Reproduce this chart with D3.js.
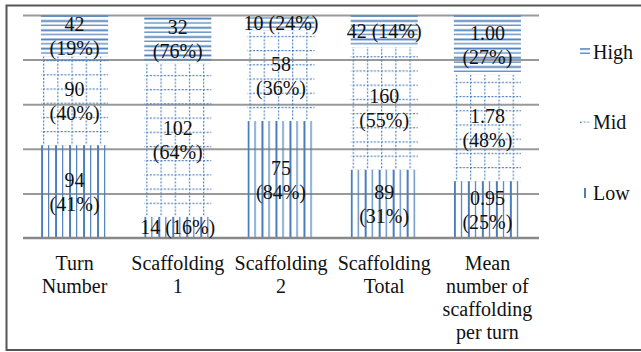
<!DOCTYPE html>
<html>
<head>
<meta charset="utf-8">
<script src="https://cdn.jsdelivr.net/npm/d3@7"></script>
<style>
  body { margin: 0; background: #fff; }
</style>
</head>
<body>
<svg id="chart" width="641" height="352" font-family="'Liberation Serif', 'Times New Roman', serif"></svg>
<script>
// --data--
var categories = ["Turn Number", "Scaffolding 1", "Scaffolding 2", "Scaffolding Total", "Mean number of scaffolding per turn"];
var categoryLines = [["Turn", "Number"], ["Scaffolding", "1"], ["Scaffolding", "2"], ["Scaffolding", "Total"], ["Mean", "number of", "scaffolding", "per turn"]];
var seriesNames = ["Low", "Mid", "High"];
var lowValues = [94, 14, 75, 89, 0.95];
var midValues = [90, 102, 58, 160, 1.78];
var highValues = [42, 32, 10, 42, 1.00];
var lowPct = ["41%", "16%", "84%", "31%", "25%"];
var midPct = ["40%", "64%", "36%", "55%", "48%"];
var highPct = ["19%", "76%", "24%", "14%", "27%"];
var valueFormat = ["d", "d", "d", "d", ".2f"];

var rows = categories.map(function (c, i) {
    return { cat: c, i: i, Low: lowValues[i], Mid: midValues[i], High: highValues[i] };
});
var pcts = { Low: lowPct, Mid: midPct, High: highPct };

var blue = "#4a7ebb";
var textColor = "#111";
var svg = d3.select("#chart");
var defs = svg.append("defs");

// outer frame
svg.append("rect")
    .attr("x", 6.5).attr("y", 5.5).attr("width", 640).attr("height", 344.5)
    .attr("fill", "none").attr("stroke", "#555").attr("stroke-width", 2);

var plotLeft = 23, plotRight = 539, plotTop = 15, plotBottom = 238;

var x = d3.scaleBand().domain(categories).range([plotLeft, plotRight]).paddingInner(0.35).paddingOuter(0.175);
var y = d3.scaleLinear().domain([0, 1]).range([plotBottom, plotTop]);

// gridlines
svg.append("g")
    .attr("transform", "translate(" + plotLeft + ",0)")
    .call(d3.axisLeft(y).tickValues([0.2, 0.4, 0.6, 0.8, 1]).tickSize(-(plotRight - plotLeft)).tickFormat(""))
    .call(function (g) {
        g.select(".domain").remove();
        g.selectAll(".tick line").attr("stroke", "#999").attr("stroke-width", 2);
    });

var stack = d3.stack().keys(seriesNames).offset(d3.stackOffsetExpand);
var series = stack(rows);

// --patterns, one per bar so that lines line up with bar edges--
function makePattern(key, id, px, py) {
    var p;
    if (key === "Low") {
        p = defs.append("pattern").attr("id", id).attr("patternUnits", "userSpaceOnUse")
            .attr("x", px).attr("y", 0).attr("width", 14).attr("height", 10);
        p.append("rect").attr("x", 0).attr("y", 0).attr("width", 2).attr("height", 10).attr("fill", blue);
        p.append("rect").attr("x", 7).attr("y", 0).attr("width", 1.2).attr("height", 10).attr("fill", blue);
    } else if (key === "Mid") {
        p = defs.append("pattern").attr("id", id).attr("patternUnits", "userSpaceOnUse")
            .attr("x", px + 2).attr("y", py).attr("width", 14.2).attr("height", 14.2);
        p.append("line").attr("x1", 0.6).attr("x2", 0.6).attr("y1", 0).attr("y2", 14.2)
            .attr("stroke", blue).attr("stroke-width", 1.2).attr("stroke-dasharray", "2,1.55");
        p.append("line").attr("x1", 0).attr("x2", 14.2).attr("y1", 0.6).attr("y2", 0.6)
            .attr("stroke", blue).attr("stroke-width", 1.2).attr("stroke-dasharray", "2,1.55");
    } else {
        p = defs.append("pattern").attr("id", id).attr("patternUnits", "userSpaceOnUse")
            .attr("x", 0).attr("y", py).attr("width", 10).attr("height", 9.2);
        p.append("rect").attr("x", 0).attr("y", 0.5).attr("width", 10).attr("height", 1.8).attr("fill", blue);
        p.append("rect").attr("x", 0).attr("y", 5.1).attr("width", 10).attr("height", 1.2).attr("fill", blue);
    }
}

var bars = svg.append("g");
series.forEach(function (s) {
    s.forEach(function (d, i) {
        var id = "pat-" + s.key + "-" + i;
        var bx = x(categories[i]);
        var y0 = y(d[0]), y1 = y(d[1]);
        makePattern(s.key, id, bx, y0);
        bars.append("rect")
            .attr("x", bx).attr("y", y1)
            .attr("width", x.bandwidth()).attr("height", y0 - y1)
            .attr("fill", "url(#" + id + ")");
    });
});

// bottom axis line
svg.append("line").attr("x1", plotLeft).attr("x2", plotRight).attr("y1", plotBottom).attr("y2", plotBottom)
    .attr("stroke", "#888").attr("stroke-width", 2.5);

// --data labels--
var labels = svg.append("g").attr("font-size", 20).attr("text-anchor", "middle").attr("fill", textColor);
series.forEach(function (s) {
    s.forEach(function (d, i) {
        var cx = x(categories[i]) + x.bandwidth() / 2;
        var y0 = y(d[0]), y1 = y(d[1]);
        var cy = (y0 + y1) / 2;
        var v = d3.format(valueFormat[i])(d.data[s.key]);
        var p = "(" + pcts[s.key][i] + ")";
        if (y0 - y1 >= 40) {
            labels.append("text").attr("x", cx).attr("y", cy - 12 + 7).text(v);
            labels.append("text").attr("x", cx).attr("y", cy + 12 + 7).text(p);
        } else {
            labels.append("text").attr("x", cx).attr("y", cy + 7).text(v + " " + p);
        }
    });
});

// --category labels--
var catG = svg.append("g").attr("font-size", 20).attr("text-anchor", "middle").attr("fill", textColor);
categories.forEach(function (c, i) {
    var cx = x(c) + x.bandwidth() / 2;
    var t = catG.append("text").attr("x", cx).attr("y", 270);
    categoryLines[i].forEach(function (ln, k) {
        t.append("tspan").attr("x", cx).attr("dy", k === 0 ? 0 : 23).text(ln);
    });
});

// --legend--
var legendY = { High: 52, Mid: 122, Low: 193 };
var legend = svg.append("g");
["High", "Mid", "Low"].forEach(function (k) {
    var cy = legendY[k];
    var id = "leg-" + k;
    if (k === "High") {
        makePattern(k, id, 580, cy - 4.5);
        legend.append("rect").attr("x", 580).attr("y", cy - 4).attr("width", 10).attr("height", 7).attr("fill", "url(#" + id + ")");
    } else if (k === "Mid") {
        makePattern(k, id, 578, cy - 0.6);
        legend.append("rect").attr("x", 580).attr("y", cy - 0.6).attr("width", 10).attr("height", 2).attr("fill", "url(#" + id + ")");
    } else {
        makePattern(k, id, 584, 0);
        legend.append("rect").attr("x", 584).attr("y", cy - 5).attr("width", 3).attr("height", 10).attr("fill", "url(#" + id + ")");
    }
    legend.append("text").attr("x", 593).attr("y", cy + 7).attr("font-size", 20).attr("fill", textColor).text(k);
});
</script>
</body>
</html>
